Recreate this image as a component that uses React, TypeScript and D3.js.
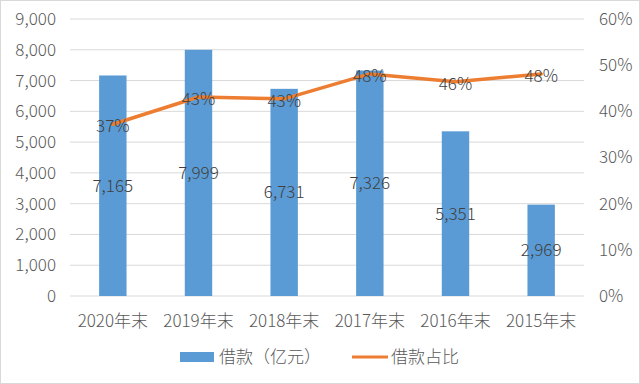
import React from 'react';
import * as d3 from 'd3';

// 借款规模与占比
const categories = ['2020年末', '2019年末', '2018年末', '2017年末', '2016年末', '2015年末'];
const loanValues = [7165, 7999, 6731, 7326, 5351, 2969];
const loanRatio = [0.372, 0.431, 0.427, 0.481, 0.464, 0.481];
const ratioLabels = ['37%', '43%', '43%', '48%', '46%', '48%'];
const leftTicks = [0, 1000, 2000, 3000, 4000, 5000, 6000, 7000, 8000, 9000];
const rightTicks = [0, 0.1, 0.2, 0.3, 0.4, 0.5, 0.6];

const W = 640;
const H = 384;
const margin = { top: 19, right: 56, bottom: 88, left: 70 };
const font = '"Noto Sans CJK SC", "Noto Sans", sans-serif';

const App = () => {
  const x = d3
    .scaleBand()
    .domain(categories)
    .range([margin.left, W - margin.right])
    .paddingInner(0.68)
    .paddingOuter(0.34);
  const y = d3.scaleLinear().domain([0, 9000]).range([H - margin.bottom, margin.top]);
  const y2 = d3.scaleLinear().domain([0, 0.6]).range([H - margin.bottom, margin.top]);
  const fmt = d3.format(',');
  const cx = (c: string) => (x(c) as number) + x.bandwidth() / 2;

  const line = d3
    .line<number>()
    .x((_, i) => cx(categories[i]))
    .y((d) => y2(d));

  return (
    <svg width={W} height={H} style={{ display: 'block', position: 'absolute', left: 0, top: 0 }} fontFamily={font} fontWeight={300}>
      <rect x={0.5} y={0.5} width={W - 1} height={H - 1} fill="#fff" stroke="#d9d9d9" />
      {/* grid */}
      {leftTicks.map((t) => (
        <line key={t} x1={margin.left} x2={W - margin.right} y1={y(t)} y2={y(t)} stroke="#d9d9d9" strokeWidth={1} />
      ))}
      {/* left axis */}
      {leftTicks.map((t) => (
        <text key={t} x={56} y={y(t)} dy="0.35em" textAnchor="end" fontSize={17} fill="#595959">
          {fmt(t)}
        </text>
      ))}
      {/* right axis */}
      {rightTicks.map((t) => (
        <text key={t} x={599} y={y2(t)} dy="0.35em" textAnchor="start" fontSize={17} fill="#595959">
          {d3.format('.0%')(t)}
        </text>
      ))}
      {/* x labels */}
      {categories.map((c) => (
        <text key={c} x={cx(c)} y={y(0) + 25} dy="0.35em" textAnchor="middle" fontSize={17} fill="#595959">
          {c}
        </text>
      ))}
      {/* bars */}
      {categories.map((c, i) => (
        <rect key={c} x={x(c)} y={y(loanValues[i])} width={x.bandwidth()} height={y(0) - y(loanValues[i])} fill="#5b9bd5" />
      ))}
      {/* bar labels */}
      {categories.map((c, i) => (
        <text key={c} x={cx(c)} y={(y(0) + y(loanValues[i])) / 2} dy="0.35em" textAnchor="middle" fontSize={17} fill="#404040">
          {fmt(loanValues[i])}
        </text>
      ))}
      {/* line */}
      <path d={line(loanRatio) || ''} fill="none" stroke="#ed7d31" strokeWidth={3.5} strokeLinejoin="round" strokeLinecap="round" />
      {categories.map((c, i) => (
        <text key={c} x={cx(c)} y={y2(loanRatio[i]) + 2} dy="0.35em" textAnchor="middle" fontSize={17} fill="#404040">
          {ratioLabels[i]}
        </text>
      ))}
      {/* legend */}
      <rect x={180} y={352} width={34} height={10} fill="#5b9bd5" />
      <text x={219} y={357} dy="0.35em" fontSize={17} fill="#595959">借款（亿元）</text>
      <line x1={352} x2={388} y1={357} y2={357} stroke="#ed7d31" strokeWidth={3} />
      <text x={391} y={357} dy="0.35em" fontSize={17} fill="#595959">借款占比</text>
    </svg>
  );
};

export default App;
